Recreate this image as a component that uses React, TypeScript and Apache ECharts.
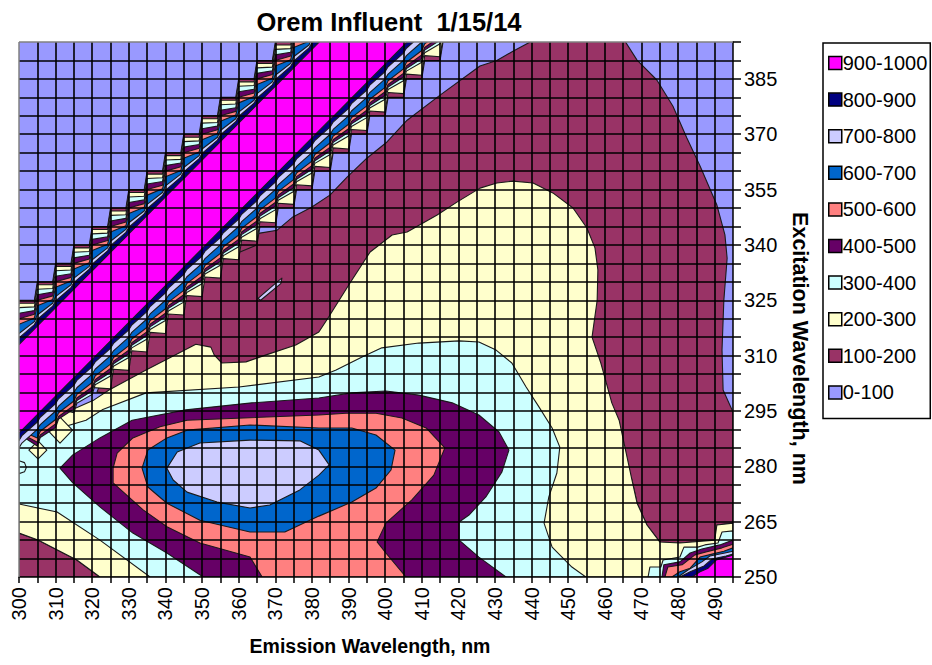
import React, { useEffect, useRef } from "react";
import * as echarts from "echarts";

type Pt = number[];

const titleText = "Orem Influent  1/15/14";
const xName = "Emission Wavelength, nm";
const yName = "Excitation Wavelength, nm";
const xTickLabels = [300, 310, 320, 330, 340, 350, 360, 370, 380, 390, 400, 410, 420, 430, 440, 450, 460, 470, 480, 490];
const yTickLabels = [250, 265, 280, 295, 310, 325, 340, 355, 370, 385];

const bandNames = ["0-100", "100-200", "200-300", "300-400", "400-500", "500-600", "600-700", "700-800", "800-900", "900-1000"];
const bandColors = ["#9999ff", "#993366", "#ffffcc", "#ccffff", "#660066", "#ff8080", "#0066cc", "#ccccff", "#000080", "#ff00ff"];

const base0: Pt[] = [[300, 250], [495, 250], [495, 395], [300, 395]];

const main100: Pt[] = [[465, 396], [468.8, 390.1], [474.2, 384.7], [478.6, 377.6], [482.4, 369], [486, 361.4], [490.6, 350.8], [492.8, 342.7], [493.4, 336.4], [492.5, 325], [492, 311.5], [492.3, 300.7], [495, 294.7], [495, 264.6], [490.6, 264.1], [490, 260], [480.5, 259.2], [475, 259.5], [471.5, 264.1], [468.8, 270], [467.4, 276.3], [458.7, 298], [384.9, 292.5], [321.3, 300.1], [323.5, 305.6], [361.7, 342.4], [365.8, 343.2], [370.5, 344], [374.8, 347.6], [380, 350.3], [384.9, 353.5], [389.6, 358.4], [395, 363.5], [400.5, 367.9], [406, 373.8], [415, 380.6], [425.9, 388.5], [430.5, 390], [434.9, 392.5], [441.5, 396]];
const corner100: Pt[] = [[300, 261.9], [305.2, 260], [315.8, 254.6], [322.1, 250], [300, 250]];
const sliver: Pt[] = [[365.3, 325.5], [370.5, 330], [371.8, 331], [371.5, 329.5], [366, 325]];

const main200: Pt[] = [[320.5, 298], [324.6, 300.7], [334.7, 306.1], [343.7, 310.7], [348.3, 313.1], [352.4, 312.3], [353.3, 310.2], [355.4, 308], [362, 308.3], [367.5, 310.2], [375.6, 312.9], [381.9, 316.4], [384.4, 320.2], [390.4, 329.7], [395.9, 338.1], [401.9, 342.7], [406, 343.5], [414.2, 348.1], [419.6, 351.6], [425.9, 355.4], [430.5, 356.8], [434.9, 357.3], [440.4, 356.8], [445.8, 354.1], [451.3, 350], [455.1, 344.6], [457.3, 339.2], [458.1, 333.2], [457.9, 325], [456.5, 315], [458.9, 308], [461.9, 297.2], [463.9, 292.5], [467.4, 276.3], [468.8, 270], [471.5, 264.1], [475, 259.5], [480.5, 259.2], [490, 260], [490.6, 264.1], [495, 264.6], [495, 250], [322.1, 250], [315.8, 254.6], [305.2, 260], [300, 261.9], [300, 289.8], [311.2, 293.9]];
const diamondA: Pt[] = [[305.2, 286.9], [307.6, 284.4], [305.2, 282], [302.7, 284.4]];
const diamondB: Pt[] = [[311.2, 293.3], [314.6, 289.8], [311.2, 286.3], [307.8, 289.8]];

const main300: Pt[] = [[360.1, 301.5], [381.9, 304.2], [386.6, 306.1], [393.7, 309.6], [399.1, 312.1], [409.2, 313.4], [420.2, 314], [425.6, 313.7], [430.3, 311.5], [434.6, 308], [438.5, 301.5], [442, 296.1], [445.6, 290.4], [447.7, 285.2], [446.9, 278.2], [444.7, 271.7], [443.4, 264.6], [445.6, 258.1], [451, 252.7], [454.8, 250], [335.8, 250], [322.1, 260], [310.4, 267.6], [300, 269.8], [300, 287.1], [318.3, 292.5], [322.7, 295.3], [334.7, 299.9]];
const dot300: Pt[] = [[300, 281.5], [301.5, 281], [302, 279.7], [301.5, 278.5], [300, 278]];

const main400: Pt[] = [[311.2, 279.5], [314.7, 283.1], [322.1, 287.7], [330.9, 292.5], [345.6, 295.3], [363.6, 297.2], [381.9, 298.5], [390.9, 299.9], [400.2, 300.4], [409.2, 299.3], [418.3, 297.2], [425.6, 293.9], [431.1, 289.3], [433.8, 284.4], [431.9, 278.5], [427.5, 271.7], [422.9, 266.8], [420.2, 264.9], [420.2, 260], [425.6, 255.4], [433, 250], [350.3, 250], [340.4, 256.5], [331.1, 261.9], [322.1, 269], [314.7, 275.5]];
const main500: Pt[] = [[325.7, 279.5], [326.8, 283.6], [331.1, 287.7], [338.5, 290.7], [345.9, 292.5], [381.9, 293.9], [389.3, 294.4], [397.5, 294.4], [404.6, 293.1], [411.2, 290.4], [416.3, 285], [413.3, 277.6], [407.3, 270.9], [400.2, 264.6], [397.8, 259.5], [400.2, 256.5], [405.7, 250], [366.4, 250], [363.1, 255.4], [349.4, 259.2], [340.4, 263.6], [333.9, 268.2], [325.7, 275.5]];
const main600: Pt[] = [[333.6, 279.5], [335.2, 284.4], [340.4, 287.7], [345.9, 289.8], [363.1, 291.2], [381.9, 290.4], [390.9, 290.4], [397.5, 288.5], [402.7, 284.4], [401.6, 279], [397.5, 274.1], [390.9, 270.3], [381.9, 266.5], [372.6, 262.2], [363.1, 262.2], [349.4, 265.4], [340.4, 270], [335.2, 274.4]];
const main700: Pt[] = [[340.4, 279.5], [343.2, 283.9], [349.4, 286.3], [363.1, 287.1], [376.7, 286.9], [381.9, 284.4], [384.7, 280.4], [381.9, 277.6], [376.7, 273.6], [368.5, 269.5], [363.1, 268.7], [354.1, 270.3], [345.9, 273], [342.1, 276.3]];

const corner300: Pt[] = [[471.8, 250], [472.3, 252.7], [475.3, 252.7], [475.9, 254.6], [480.5, 255.4], [481.6, 258.1], [485.4, 258.1], [487.3, 258.7], [490.9, 259.2], [492, 262.2], [495, 262.5], [495, 250]];
const corner400: Pt[] = [[475.6, 250], [476.1, 253.3], [480.5, 254.1], [483.3, 256.5], [486.5, 257.6], [491.4, 258.7], [495, 260], [495, 250]];
const corner500: Pt[] = [[476.4, 250], [477.2, 252.7], [481.1, 253.3], [484.6, 256], [487.6, 256.8], [492, 257.9], [495, 258.9], [495, 250]];
const corner600: Pt[] = [[478.3, 250], [480.5, 251.4], [483.3, 252.4], [486, 255.4], [489.3, 256.2], [492.5, 257], [495, 257.9], [495, 250]];
const corner700: Pt[] = [[480, 250], [482.7, 251.9], [486.5, 254.1], [488.7, 255.7], [492.8, 256.5], [495, 257], [495, 250]];
const corner800: Pt[] = [[480.5, 250], [483.3, 251.4], [487.1, 253], [489.3, 254.9], [493.1, 255.7], [495, 256.2], [495, 250]];
const corner900: Pt[] = [[483.8, 250], [486, 251.4], [488.2, 252.4], [490.4, 254.6], [494.2, 255.7], [495, 256], [495, 250]];

// scatter ridge: grid nodes where the steps of its contours sit
const ridgeUpperEm = [280, 285, 290, 295, 300, 305, 310, 315, 320, 325, 330, 335, 340, 345, 350, 355, 360, 365, 370, 375, 380, 385];
const ridgeLowerEm = [300, 305, 310, 315, 320, 325, 330, 335, 340, 345, 350, 355, 360, 365, 370, 375, 380, 385, 390, 395, 400, 405, 410, 415, 420, 425];
// excitation minus emission at the step corners and notches, for levels 100..900
const upperCorner = [25, 24.2, 23, 21.5, 20, 18.5, 16, 14.8, 13];
const upperNotch = [20.8, 20.0, 19, 18, 17, 16, 15, 14.2, 13];
const lowerCorner = [-25, -24, -20.5, -19.5, -18.5, -17.3, -15, -13, -11];
const lowerNotch = [-20.8, -19.5, -18.7, -18, -17.3, -16.3, -14.5, -12.5, -11];
const lowerFirstEm = [365, 325, 315, 305, 305, 305, 300, 300, 300];
const STEP_A = 4.2;
const STEP_B = 0.8;

function ridgePolygon(level: number): Pt[] {
  const pts: Pt[] = [];
  for (const em of ridgeUpperEm) {
    pts.push([em, em + upperCorner[level]]);
    pts.push([em + STEP_A, em + STEP_A + upperNotch[level]]);
  }
  const lower = ridgeLowerEm.filter((e) => e >= lowerFirstEm[level]).reverse();
  lower.forEach((em, i) => {
    if (i > 0) pts.push([em + STEP_B, em + STEP_B + lowerNotch[level]]);
    pts.push([em, em + lowerCorner[level]]);
  });
  return pts;
}

// painted in this order, each layer over the ones before it
const layers: { band: number; polys: Pt[][] }[] = [
  { band: 0, polys: [base0] },
  { band: 1, polys: [main100, corner100, ridgePolygon(0)] },
  { band: 2, polys: [main200, ridgePolygon(1)] },
  { band: 3, polys: [main300, dot300, corner300, ridgePolygon(2)] },
  { band: 2, polys: [diamondA, diamondB] },
  { band: 4, polys: [main400, corner400, ridgePolygon(3)] },
  { band: 5, polys: [main500, corner500, ridgePolygon(4)] },
  { band: 6, polys: [main600, corner600, ridgePolygon(5)] },
  { band: 7, polys: [main700, corner700, sliver, ridgePolygon(6)] },
  { band: 8, polys: [corner800, ridgePolygon(7)] },
  { band: 9, polys: [corner900, ridgePolygon(8)] },
];

export default function App() {
  const ref = useRef<HTMLDivElement>(null);
  useEffect(() => {
    const chart = echarts.init(ref.current!, null, { renderer: "svg" });
    const font = "'Liberation Sans', Arial, sans-serif";
    chart.setOption({
      animation: false,
      backgroundColor: "#ffffff",
      title: {
        text: titleText,
        left: 384,
        top: 4,
        textAlign: "center",
        textStyle: { fontFamily: font, fontSize: 25.5, fontWeight: "bold", color: "#000" },
      },
      grid: { left: 19, top: 42, width: 714, height: 535, show: false },
      legend: {
        show: true,
        orient: "vertical",
        left: 823,
        top: 43,
        padding: [9, 3, 15, 5],
        borderColor: "#000",
        borderWidth: 1.5,
        backgroundColor: "#fff",
        itemWidth: 13,
        itemHeight: 13,
        itemGap: 14.6,
        icon: "rect",
        selectedMode: false,
        itemStyle: { borderColor: "#000", borderWidth: 1.5 },
        textStyle: { fontFamily: font, fontSize: 20, color: "#000", padding: [0, 0, 0, -4], lineHeight: 22 },
        data: [...bandNames].reverse(),
      },
      xAxis: {
        type: "value",
        min: 300,
        max: 495,
        interval: 5,
        z: 20,
        name: xName,
        nameLocation: "middle",
        nameGap: 59,
        nameTextStyle: { fontFamily: font, fontSize: 19.5, fontWeight: "bold", color: "#000", padding: [0, 12, 0, 0] },
        axisLine: { show: true, onZero: false, lineStyle: { color: "#000", width: 1.5 } },
        axisTick: { show: true, length: 6, lineStyle: { color: "#000", width: 1.5 } },
        splitLine: { show: true, showMinLine: false, showMaxLine: false, lineStyle: { color: "#000", width: 1.6 } },
        axisLabel: {
          rotate: 90,
          margin: 10,
          fontFamily: font,
          fontSize: 20,
          color: "#000",
          formatter: (v: number) => (xTickLabels.includes(v) ? String(v) : ""),
        },
      },
      yAxis: {
        type: "value",
        position: "right",
        min: 250,
        max: 395,
        interval: 5,
        z: 20,
        name: yName,
        nameLocation: "middle",
        nameRotate: -90,
        nameGap: 56,
        nameTextStyle: { fontFamily: font, fontSize: 21.5, fontWeight: "bold", color: "#000", padding: [0, 0, 0, 78] },
        axisLine: { show: true, onZero: false, lineStyle: { color: "#000", width: 1.5 } },
        axisTick: { show: true, length: 8, lineStyle: { color: "#000", width: 1.5 } },
        splitLine: { show: true, showMinLine: false, showMaxLine: false, lineStyle: { color: "#000", width: 1.6 } },
        axisLabel: {
          margin: 11,
          fontFamily: font,
          fontSize: 20,
          color: "#000",
          formatter: (v: number) => (yTickLabels.includes(v) ? String(v) : ""),
        },
      },
      graphic: [
        { type: "line", z: 30, shape: { x1: 19, y1: 42, x2: 733, y2: 42 }, style: { stroke: "#808080", lineWidth: 1.5 } },
        { type: "line", z: 30, shape: { x1: 19, y1: 42, x2: 19, y2: 577 }, style: { stroke: "#808080", lineWidth: 1.5 } },
      ],
      series: layers.map(({ band, polys }) => ({
        name: bandNames[band],
        type: "custom",
        coordinateSystem: "cartesian2d",
        clip: true,
        z: 2,
        itemStyle: { color: bandColors[band] },
        data: polys.map((_, i) => [i]),
        renderItem: (params: any, api: any) => ({
          type: "polygon",
          shape: { points: polys[params.dataIndex].map((p) => api.coord(p)) },
          style: { fill: bandColors[band], stroke: band === 0 ? "none" : "#1a1a1a", lineWidth: 1.1, lineJoin: "round" },
        }),
      })),
    });
    return () => chart.dispose();
  }, []);
  return <div ref={ref} style={{ position: "absolute", left: 0, top: 0, width: 932, height: 665 }} />;
}
